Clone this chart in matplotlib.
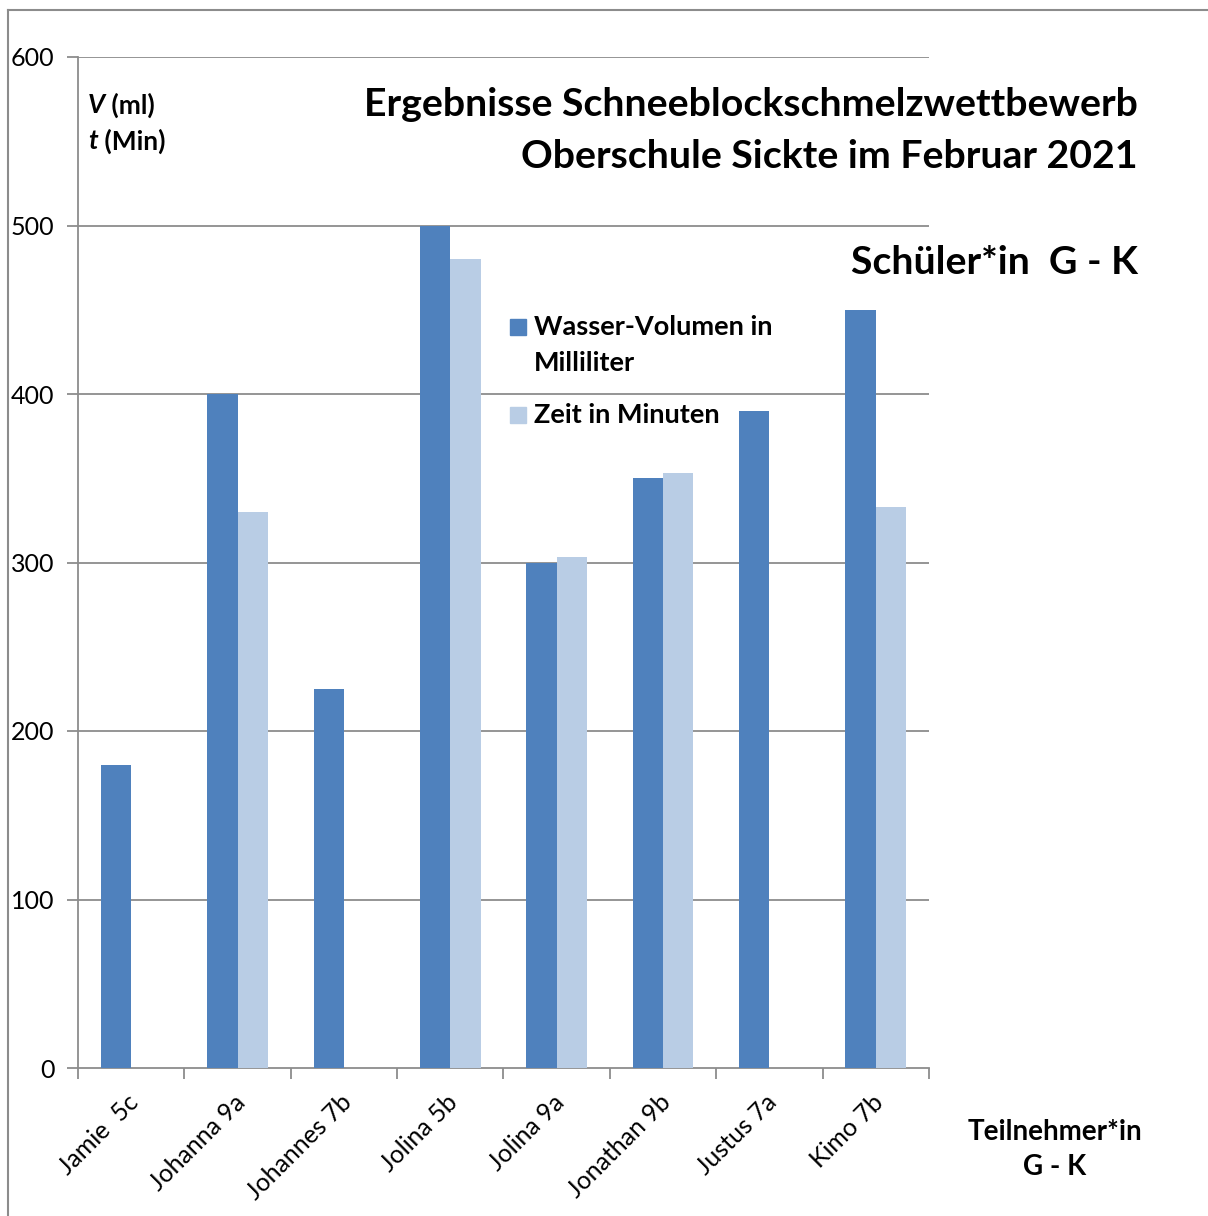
import numpy as np
import matplotlib
matplotlib.use("Agg")
import matplotlib.pyplot as plt
from matplotlib.lines import Line2D
from matplotlib.patches import Rectangle

plt.rcParams['font.family'] = ['Lato', 'DejaVu Sans']

categories = ["Jamie  5c", "Johanna 9a", "Johannes 7b", "Jolina 5b", "Jolina 9a",
              "Jonathan 9b", "Justus 7a", "Kimo 7b"]
volume_ml = [180, 400, 225, 500, 300, 350, 390, 450]
time_min = [np.nan, 330, np.nan, 480, 303, 353, np.nan, 333]
yticks = [0, 100, 200, 300, 400, 500, 600]

c_dark = "#4F81BD"
c_light = "#B9CDE5"
grid_c = "#8C8C8C"

W, H = 1208, 1216
fig = plt.figure(figsize=(W/100, H/100), dpi=100)
ax = fig.add_axes([78/W, 1-1068/H, (929-78)/W, (1068-57)/H])

x = np.arange(len(categories))
bw = 0.285
ax.bar(x - bw/2, volume_ml, width=bw, color=c_dark, zorder=3)
ax.bar(x + bw/2, time_min, width=bw, color=c_light, zorder=3)

ax.set_xlim(-0.5, len(categories) - 0.5)
ax.set_ylim(0, 600)
ax.set_yticks(yticks)
ax.set_yticklabels([str(v) for v in yticks], fontsize=18)
for v in yticks[1:]:
    ax.axhline(v, color=grid_c, lw=1.3, zorder=1)
ax.set_xticks(np.arange(len(categories) + 1) - 0.5)
ax.set_xticklabels([])
ax.tick_params(axis='x', length=8, width=1.3, color=grid_c)
ax.tick_params(axis='y', length=8, width=1.3, color=grid_c, pad=9)
for i, lab in enumerate(categories):
    ax.annotate(lab, xy=(i - 0.04, 0), xycoords=('data', 'axes fraction'),
                xytext=(0, -16), textcoords='offset points',
                rotation=45, ha='right', va='top', fontsize=18, rotation_mode='anchor')
for s in ['top', 'right']:
    ax.spines[s].set_visible(False)
for s in ['left', 'bottom']:
    ax.spines[s].set_color(grid_c)
    ax.spines[s].set_linewidth(1.3)

# figure border
fig.add_artist(Line2D([8/W, 8/W], [0, 1-10/H], transform=fig.transFigure, color=grid_c, lw=1.5))
fig.add_artist(Line2D([8/W, 1], [1-10/H, 1-10/H], transform=fig.transFigure, color=grid_c, lw=1.5))

# titles
tfs = 28.3
fig.text(1138/W, 1-105/H, "Ergebnisse Schneeblockschmelzwettbewerb", ha='right', va='center',
         fontsize=tfs, fontweight='bold')
fig.text(1138/W, 1-157/H, "Oberschule Sickte im Februar 2021", ha='right', va='center',
         fontsize=tfs, fontweight='bold')
fig.text(1138/W, 1-262/H, "Schüler*in  G - K", ha='right', va='center',
         fontsize=tfs, fontweight='bold')

# y-axis label: italic variable + bold unit
renderer = fig.canvas.get_renderer()
for sym, unit, yy in [("V", " (ml)", 105), ("t", " (Min)", 141)]:
    t1 = fig.text(88/W, 1-yy/H, sym, ha='left', va='center', fontsize=19,
                  fontweight='bold', style='italic')
    bb = t1.get_window_extent(renderer)
    fig.text(bb.x1/W, 1-yy/H, unit, ha='left', va='center', fontsize=19, fontweight='bold')

fig.text(1055/W, 1-1132/H, "Teilnehmer*in", ha='center', va='center', fontsize=20, fontweight='bold')
fig.text(1055/W, 1-1167/H, "G - K", ha='center', va='center', fontsize=20, fontweight='bold')

# legend
fig.add_artist(Rectangle((510/W, 1-335/H), 16/W, 16/H, transform=fig.transFigure, color=c_dark))
fig.add_artist(Rectangle((510/W, 1-423/H), 16/W, 16/H, transform=fig.transFigure, color=c_light))
lfs = 19.5
fig.text(534/W, 1-327/H, "Wasser-Volumen in", ha='left', va='center', fontsize=lfs, fontweight='bold')
fig.text(534/W, 1-363/H, "Milliliter", ha='left', va='center', fontsize=lfs, fontweight='bold')
fig.text(534/W, 1-415/H, "Zeit in Minuten", ha='left', va='center', fontsize=lfs, fontweight='bold')

fig.savefig("out.png", dpi=100)
